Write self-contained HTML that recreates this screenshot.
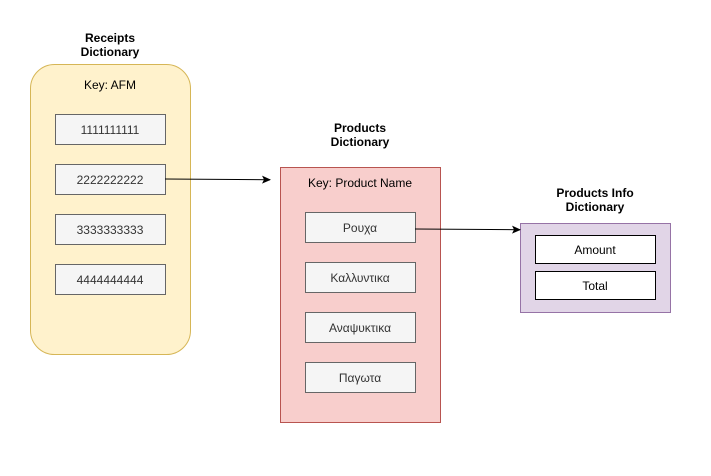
<!DOCTYPE html>
<html><head><meta charset="utf-8"><style>
body{margin:0;background:#fff;width:711px;height:471px;overflow:hidden}
svg text{font-family:"Liberation Sans",sans-serif;font-size:12px}
</style></head><body>
<svg width="711" height="471" viewBox="0 0 711 471" xmlns="http://www.w3.org/2000/svg">
<defs><marker id="a" markerWidth="10" markerHeight="10" refX="8" refY="4" orient="auto" markerUnits="userSpaceOnUse"><path d="M0,0 L9,4 L0,8 L2,4 Z" fill="#000"/></marker></defs>
<g text-anchor="middle" font-weight="bold">
<text x="110" y="42" font-weight="bold">Receipts</text><text x="110" y="56" font-weight="bold">Dictionary</text>
<text x="360" y="132" font-weight="bold">Products</text><text x="360" y="146" font-weight="bold">Dictionary</text>
<text x="595" y="197" font-weight="bold">Products Info</text><text x="595" y="211" font-weight="bold">Dictionary</text>
</g>
<rect x="30.5" y="64.5" width="160" height="290" rx="24" fill="#fff2cc" stroke="#d6b656"/>
<text x="110" y="89" text-anchor="middle">Key: AFM</text>
<g fill="#f5f5f5" stroke="#666">
<rect x="55.5" y="114.5" width="110" height="30"/><rect x="55.5" y="164.5" width="110" height="30"/>
<rect x="55.5" y="214.5" width="110" height="30"/><rect x="55.5" y="264.5" width="110" height="30"/>
</g>
<g text-anchor="middle" fill="#333">
<text x="110" y="134">1111111111</text><text x="110" y="184">2222222222</text>
<text x="110" y="234">3333333333</text><text x="110" y="284">4444444444</text>
</g>
<rect x="280.5" y="167.5" width="160" height="255" fill="#f8cecc" stroke="#b85450"/>
<text x="360" y="187" text-anchor="middle">Key: Product Name</text>
<g fill="#f5f5f5" stroke="#666">
<rect x="305.5" y="212.5" width="110" height="30"/><rect x="305.5" y="262.5" width="110" height="30"/>
<rect x="305.5" y="312.5" width="110" height="30"/><rect x="305.5" y="362.5" width="110" height="30"/>
</g>
<g text-anchor="middle" fill="#333">
<text x="360" y="232">Ρουχα</text><text x="360" y="282">Καλλυντικα</text>
<text x="360" y="332">Αναψυκτικα</text><text x="360" y="382">Παγωτα</text>
</g>
<rect x="520.5" y="223.5" width="150" height="89" fill="#e1d5e7" stroke="#9673a6"/>
<rect x="535.5" y="235.5" width="120" height="28" fill="#fff" stroke="#000"/>
<rect x="535.5" y="271.5" width="120" height="28" fill="#fff" stroke="#000"/>
<text x="595" y="254" text-anchor="middle">Amount</text>
<text x="595" y="290" text-anchor="middle">Total</text>
<line x1="165" y1="179" x2="270" y2="179.7" stroke="#000" marker-end="url(#a)"/>
<line x1="415" y1="229" x2="520" y2="229.7" stroke="#000" marker-end="url(#a)"/>
</svg>
</body></html>
